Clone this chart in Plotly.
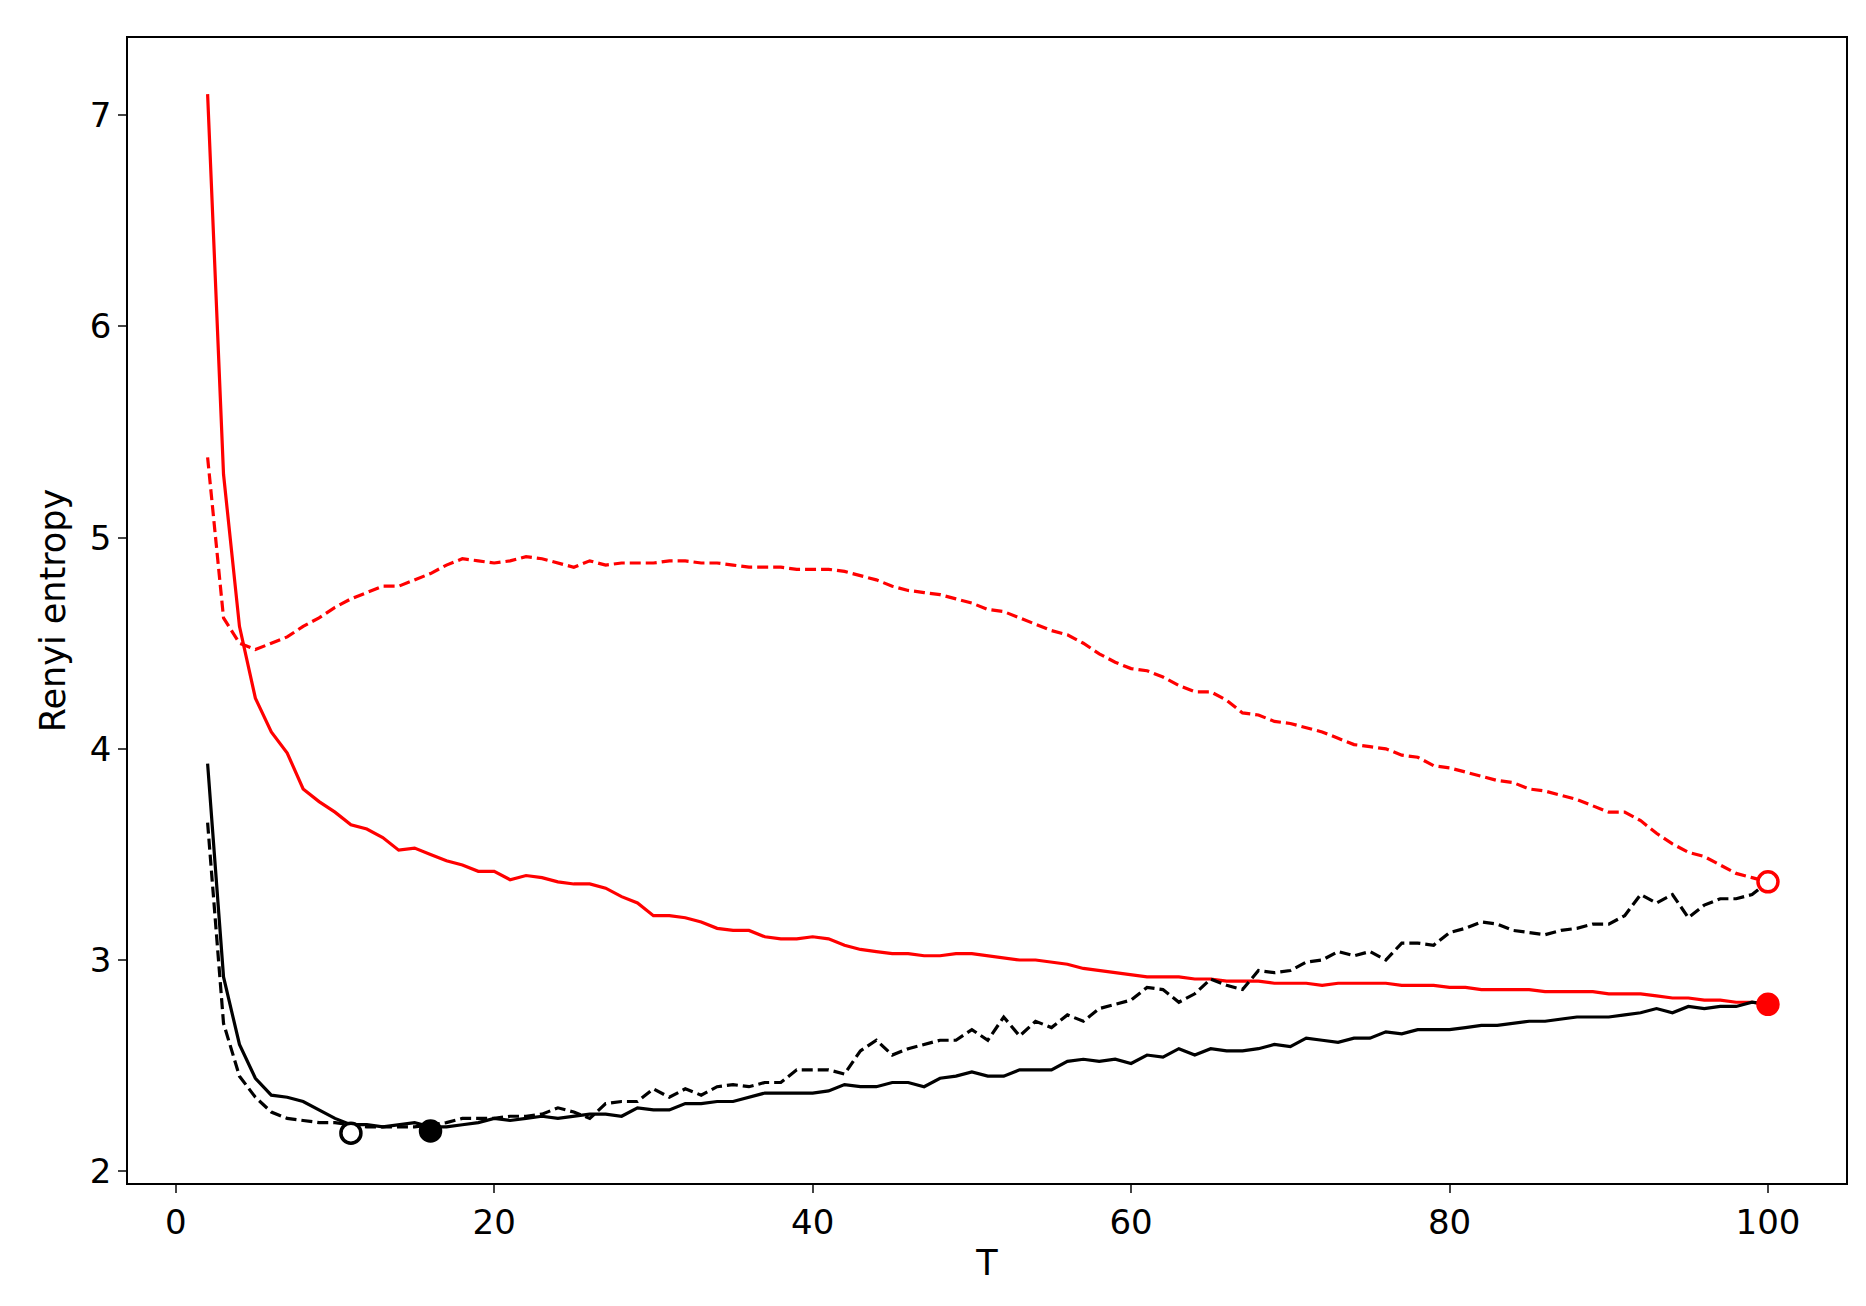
import plotly.graph_objects as go

T = list(range(2, 101))

red_solid = [7.10, 5.30, 4.58, 4.24, 4.08, 3.98, 3.81, 3.75, 3.70, 3.64, 3.62, 3.58, 3.52, 3.53, 3.50, 3.47, 3.45, 3.42, 3.42,
             3.38, 3.40, 3.39, 3.37, 3.36, 3.36, 3.34, 3.30, 3.27, 3.21, 3.21, 3.20, 3.18, 3.15, 3.14, 3.14, 3.11, 3.10, 3.10,
             3.11, 3.10, 3.07, 3.05, 3.04, 3.03, 3.03, 3.02, 3.02, 3.03, 3.03, 3.02, 3.01, 3.00, 3.00, 2.99, 2.98, 2.96, 2.95,
             2.94, 2.93, 2.92, 2.92, 2.92, 2.91, 2.91, 2.90, 2.90, 2.90, 2.89, 2.89, 2.89, 2.88, 2.89, 2.89, 2.89, 2.89, 2.88,
             2.88, 2.88, 2.87, 2.87, 2.86, 2.86, 2.86, 2.86, 2.85, 2.85, 2.85, 2.85, 2.84, 2.84, 2.84, 2.83, 2.82, 2.82, 2.81,
             2.81, 2.80, 2.80, 2.79]

red_dashed = [5.38, 4.62, 4.50, 4.47, 4.50, 4.53, 4.58, 4.62, 4.67, 4.71, 4.74, 4.77, 4.77, 4.80, 4.83, 4.87, 4.90, 4.89, 4.88,
              4.89, 4.91, 4.90, 4.88, 4.86, 4.89, 4.87, 4.88, 4.88, 4.88, 4.89, 4.89, 4.88, 4.88, 4.87, 4.86, 4.86, 4.86, 4.85,
              4.85, 4.85, 4.84, 4.82, 4.80, 4.77, 4.75, 4.74, 4.73, 4.71, 4.69, 4.66, 4.65, 4.62, 4.59, 4.56, 4.54, 4.50, 4.45,
              4.41, 4.38, 4.37, 4.34, 4.30, 4.27, 4.27, 4.23, 4.17, 4.16, 4.13, 4.12, 4.10, 4.08, 4.05, 4.02, 4.01, 4.00, 3.97,
              3.96, 3.92, 3.91, 3.89, 3.87, 3.85, 3.84, 3.81, 3.80, 3.78, 3.76, 3.73, 3.70, 3.70, 3.66, 3.60, 3.55, 3.51, 3.49,
              3.45, 3.41, 3.39, 3.37]

black_solid = [3.93, 2.92, 2.60, 2.44, 2.36, 2.35, 2.33, 2.29, 2.25, 2.22, 2.22, 2.21, 2.22, 2.23, 2.21, 2.21, 2.22, 2.23, 2.25,
               2.24, 2.25, 2.26, 2.25, 2.26, 2.27, 2.27, 2.26, 2.30, 2.29, 2.29, 2.32, 2.32, 2.33, 2.33, 2.35, 2.37, 2.37, 2.37,
               2.37, 2.38, 2.41, 2.40, 2.40, 2.42, 2.42, 2.40, 2.44, 2.45, 2.47, 2.45, 2.45, 2.48, 2.48, 2.48, 2.52, 2.53, 2.52,
               2.53, 2.51, 2.55, 2.54, 2.58, 2.55, 2.58, 2.57, 2.57, 2.58, 2.60, 2.59, 2.63, 2.62, 2.61, 2.63, 2.63, 2.66, 2.65,
               2.67, 2.67, 2.67, 2.68, 2.69, 2.69, 2.70, 2.71, 2.71, 2.72, 2.73, 2.73, 2.73, 2.74, 2.75, 2.77, 2.75, 2.78, 2.77,
               2.78, 2.78, 2.80, 2.79]

black_dashed = [3.65, 2.70, 2.45, 2.35, 2.28, 2.25, 2.24, 2.23, 2.23, 2.22, 2.21, 2.21, 2.21, 2.21, 2.22, 2.23, 2.25, 2.25, 2.25,
                2.26, 2.26, 2.27, 2.30, 2.28, 2.25, 2.32, 2.33, 2.33, 2.39, 2.35, 2.39, 2.36, 2.40, 2.41, 2.40, 2.42, 2.42, 2.48,
                2.48, 2.48, 2.46, 2.57, 2.62, 2.55, 2.58, 2.60, 2.62, 2.62, 2.67, 2.62, 2.73, 2.64, 2.71, 2.68, 2.74, 2.71, 2.77,
                2.79, 2.81, 2.87, 2.86, 2.80, 2.84, 2.91, 2.88, 2.86, 2.95, 2.94, 2.95, 2.99, 3.00, 3.04, 3.02, 3.04, 3.00, 3.08,
                3.08, 3.07, 3.13, 3.15, 3.18, 3.17, 3.14, 3.13, 3.12, 3.14, 3.15, 3.17, 3.17, 3.21, 3.31, 3.27, 3.31, 3.20, 3.26,
                3.29, 3.29, 3.31, 3.37]

# minimum / end markers: (T, value, colour, filled)
markers = [(11, 2.18, "black", False), (16, 2.19, "black", True),
           (100, 2.79, "red", True), (100, 3.37, "red", False)]

fig = go.Figure()
for ys, color, dash in [(red_solid, "red", "solid"), (red_dashed, "red", "11px,5px"),
                        (black_solid, "black", "solid"), (black_dashed, "black", "11px,5px")]:
    fig.add_trace(go.Scatter(x=T, y=ys, mode="lines", line=dict(color=color, width=3.2, dash=dash)))

for x, y, c, filled in markers:
    fig.add_trace(go.Scatter(x=[x], y=[y], mode="markers",
                             marker=dict(size=20, color=c if filled else "white",
                                         line=dict(color=c, width=3.5))))

axis = dict(showgrid=False, zeroline=False, showline=True, mirror=True, linecolor="black", linewidth=1.5,
            ticks="outside", ticklen=8, tickwidth=1.5, tickfont=dict(size=34, color="black"))
fig.update_layout(
    width=1866, height=1306, showlegend=False,
    plot_bgcolor="white", paper_bgcolor="white",
    font_family="DejaVu Sans",
    margin=dict(l=120, r=28, t=30, b=131),
    xaxis=dict(axis, range=[-3, 104.9], tickvals=[0, 20, 40, 60, 80, 100],
               title=dict(text="T", font=dict(size=35, color="black"), standoff=10)),
    yaxis=dict(axis, range=[1.944, 7.366], tickvals=[2, 3, 4, 5, 6, 7],
               title=dict(text="Renyi entropy", font=dict(size=35, color="black"), standoff=14)),
)
fig.write_html("out.html")
